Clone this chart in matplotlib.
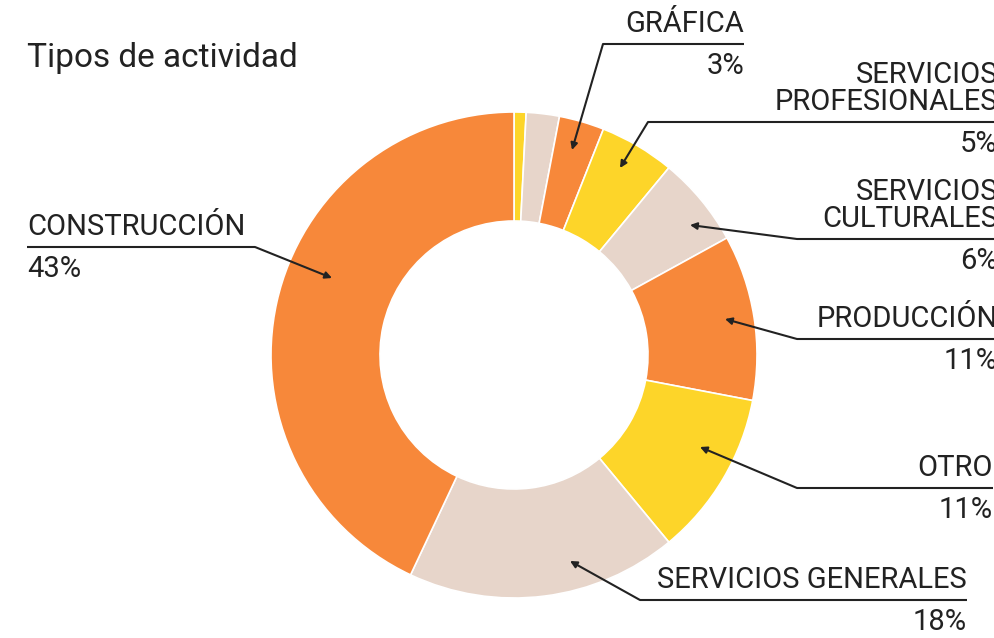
import matplotlib
matplotlib.use("Agg")
import matplotlib.pyplot as plt

plt.rcParams['font.family'] = ['Roboto', 'DejaVu Sans']

# Data
categories = ["", "", "GRÁFICA", "SERVICIOS\nPROFESIONALES", "SERVICIOS\nCULTURALES",
              "PRODUCCIÓN", "OTRO", "SERVICIOS GENERALES", "CONSTRUCCIÓN"]
values = [0.8, 2.2, 3, 5, 6, 11, 11, 18, 43]
pct_labels = ["", "", "3%", "5%", "6%", "11%", "11%", "18%", "43%"]

ORANGE = "#F7883A"
YELLOW = "#FDD529"
BEIGE = "#E7D5CA"
colors = [YELLOW, BEIGE, ORANGE, YELLOW, BEIGE, ORANGE, YELLOW, BEIGE, ORANGE]

W, H = 995, 638
fig = plt.figure(figsize=(W / 100, H / 100), dpi=100)
ax = fig.add_axes([0, 0, 1, 1])

def Y(y):
    return H - y

cx, cy, R, hole = 514, 355, 243, 134
ax.pie(values, colors=colors, startangle=90, counterclock=False,
       center=(cx, Y(cy)), radius=R, frame=True,
       wedgeprops=dict(width=R - hole, edgecolor='white', linewidth=1.2))
ax.set_xlim(0, W)
ax.set_ylim(0, H)
ax.set_aspect('equal')
ax.axis('off')

TXT = "#222222"
ax.text(27, Y(58), "Tipos de actividad", fontsize=24, color=TXT,
        ha='left', va='center')

line_color = "#222222"
fs = 21

# label layout: (index, tip(x,y), elbow(x,y), line end x, align)
layout = {
    2: ((572, 150), (603, 44), 744, 'right'),
    3: ((620, 168), (648, 122), 998, 'right'),
    4: ((690, 225), (797, 239), 998, 'right'),
    5: ((725, 319), (797, 339), 998, 'right'),
    6: ((700, 447), (797, 488), 993, 'right'),
    7: ((570, 561), (640, 600), 967, 'right'),
    8: ((332, 278), (255, 247), 27, 'left'),
}

for i, (tip, elbow, xend, align) in layout.items():
    ex, ey = elbow
    ax.plot([ex, xend], [Y(ey), Y(ey)], color=line_color, lw=1.5,
            solid_capstyle='butt')
    ax.annotate("", xy=(tip[0], Y(tip[1])), xytext=(ex, Y(ey)),
                arrowprops=dict(arrowstyle='-|>', color=line_color, lw=1.5,
                                mutation_scale=10, shrinkA=0, shrinkB=0))
    tx = xend
    ax.text(tx, Y(ey) + 6, categories[i], fontsize=fs, color=TXT,
            ha=align, va='bottom', linespacing=0.95)
    ax.text(tx, Y(ey) - 8, pct_labels[i], fontsize=fs, color=TXT,
            ha=align, va='top')

fig.savefig("out.png", dpi=100)
